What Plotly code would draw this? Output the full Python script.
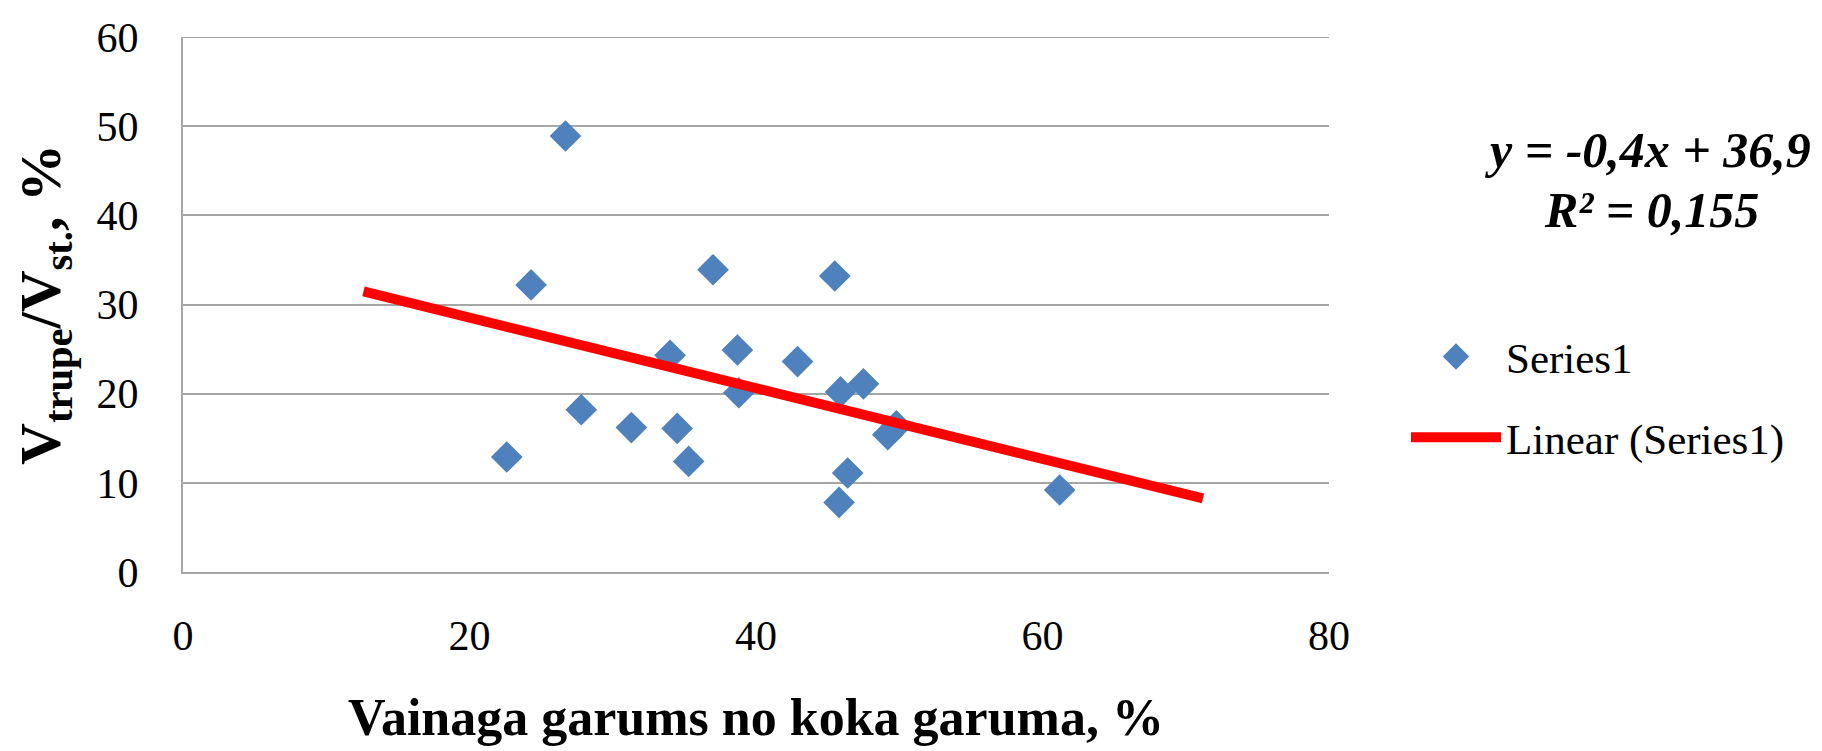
import numpy as np
import plotly.graph_objects as go

# Data
x_vals = [26.7, 24.3, 37.0, 45.5, 34.0, 38.7, 42.9, 38.8, 45.9, 47.5,
          27.8, 31.3, 34.5, 35.3, 22.6, 49.2, 49.8, 46.4, 45.8, 61.2]
y_vals = [48.9, 32.2, 33.9, 33.2, 24.3, 24.9, 23.6, 20.1, 20.2, 21.1,
          18.2, 16.2, 16.1, 12.4, 12.9, 15.4, 16.4, 11.1, 7.8, 9.2]
series_name = "Series1"
trend_name = "Linear (Series1)"
equation_lines = ["y = -0,4x + 36,9", "R² = 0,155"]
x_ticks = [0, 20, 40, 60, 80]
y_ticks = [0, 10, 20, 30, 40, 50, 60]
x_title = "Vainaga garums no koka garuma, %"
y_title = "V<sub>trupe</sub>/V<sub>st.</sub>, %"
forecast = 10  # trendline extends 10 units on each side

# linear trendline
slope, intercept = np.polyfit(x_vals, y_vals, 1)
tx = np.array([min(x_vals) - forecast, max(x_vals) + forecast])
ty = slope * tx + intercept

W, H = 1822, 751
ml, mr, mt, mb = 175, 501, 29, 187
pw = W - ml - mr
ph = H - mt - mb

def px_x(p):
    return (p - ml) / pw

def px_y(p):
    return 1 - (p - mt) / ph

FONT = "Liberation Serif"
GRID = "#A6A6A6"
BLUE = "#4F81BD"

fig = go.Figure()
fig.add_trace(go.Scatter(
    x=x_vals, y=y_vals, mode="markers", name=series_name,
    marker=dict(symbol="diamond", size=20, color=BLUE, line=dict(color=BLUE, width=4)),
    legendgroup="a",
))
fig.add_trace(go.Scatter(
    x=tx, y=ty, mode="lines", name=trend_name,
    line=dict(color="#FF0000", width=10),
    legendgroup="b",
))

fig.update_layout(
    width=W, height=H,
    margin=dict(l=ml, r=mr, t=mt, b=mb, autoexpand=False),
    paper_bgcolor="white", plot_bgcolor="white",
    font=dict(family=FONT, size=42, color="black"),
    showlegend=True,
    legend=dict(
        x=px_x(1398), y=px_y(314), xanchor="left", yanchor="top",
        font=dict(family=FONT, size=43, color="black"),
        itemwidth=90, tracegroupgap=22, traceorder="grouped",
        bgcolor="rgba(0,0,0,0)",
    ),
    xaxis=dict(
        range=[0, 80], tickvals=x_ticks, showgrid=False, zeroline=False,
        showline=True, linecolor=GRID, linewidth=2,
        ticks="", ticklabelstandoff=26,
        tickfont=dict(family=FONT, size=42),
        title=dict(text=x_title, font=dict(family=FONT, size=52, weight="bold"), standoff=40),
    ),
    yaxis=dict(
        range=[0, 60], tickvals=y_ticks, showgrid=True, gridcolor=GRID, gridwidth=2,
        zeroline=False, showline=True, linecolor=GRID, linewidth=2,
        ticks="", ticklabelstandoff=34,
        tickfont=dict(family=FONT, size=42),
        title=dict(text=y_title, font=dict(family=FONT, size=58, weight="bold"), standoff=18),
    ),
)

# top gridline at the upper edge of the range
fig.add_shape(type="line", xref="paper", yref="y", x0=0, x1=1,
              y0=y_ticks[-1], y1=y_ticks[-1], line=dict(color=GRID, width=2), layer="below")

# trendline equation: first line right-aligned, second centred beneath it
fig.add_annotation(
    xref="paper", yref="paper", x=px_x(1805), y=px_y(142),
    xanchor="right", yanchor="middle",
    text="<b><i>" + equation_lines[0] + "</i></b>",
    showarrow=False, font=dict(family=FONT, size=50, color="black"),
)
fig.add_annotation(
    xref="paper", yref="paper", x=px_x(1643), y=px_y(202),
    xanchor="center", yanchor="middle",
    text="<b><i>" + equation_lines[1] + "</i></b>",
    showarrow=False, font=dict(family=FONT, size=50, color="black"),
)

fig.write_html("out.html")
